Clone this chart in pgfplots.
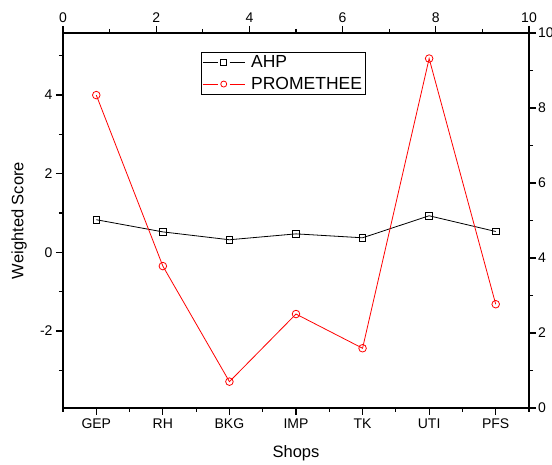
\documentclass[border=0pt]{standalone}
\usepackage{fontspec}
\setmainfont{Liberation Sans}
\usepackage{pgfplots}
\pgfplotsset{compat=1.18}
\begin{document}
\begin{tikzpicture}
\path[use as bounding box] (-63pt,-57pt) rectangle (489pt,408pt);
\begin{axis}[
  at={(0pt,0pt)}, anchor=south west,
  scale only axis, width=466pt, height=375pt,
  xmin=0.5, xmax=7.5, ymin=-3.96, ymax=5.58,
  xtick={1,2,3,4,5,6,7}, xticklabels={GEP,RH,BKG,IMP,TK,UTI,PFS},
  minor xtick={0.5,1.5,2.5,3.5,4.5,5.5,6.5,7.5},
  ytick={-2,0,2,4}, minor ytick={-3,-1,1,3,5},
  xtick pos=left, ytick pos=left,
  tick align=outside, major tick length=7pt, minor tick length=4pt,
  every tick/.style={black, line width=1.2pt},
  every minor tick/.style={black, line width=1.2pt},
  axis line style={line width=1.4pt},
  /pgf/number format/assume math mode=true,
  tick label style={font=\fontsize{14}{16}\selectfont},
  label style={font=\fontsize{16.5}{18}\selectfont},
  xlabel={Shops}, ylabel={Weighted Score},
  xlabel style={at={(axis description cs:0.5,0)}, anchor=center, yshift=-45pt},
  ylabel style={at={(axis description cs:0,0.5)}, anchor=center, xshift=0pt, yshift=44pt},
  legend style={at={(0.296,0.950)}, anchor=north west, draw=black, line width=0.8pt,
    font=\fontsize{17.5}{19}\selectfont, inner xsep=1pt, inner ysep=1.5pt, row sep=4pt,
    cells={anchor=west},
    /tikz/every odd column/.append style={column sep=4pt}},
  legend image code/.code={%
    \draw[mark=none] (0pt,0pt) -- (15pt,0pt);
    \draw[mark=none] (27pt,0pt) -- (42pt,0pt);
    \draw[only marks, mark size=3pt] plot coordinates {(21pt,0pt)};},
]
\addplot[black, line width=0.8pt, mark=square, mark size=3.3pt, mark options={line width=0.8pt, fill=white}]
  coordinates {(1,0.83)(2,0.52)(3,0.32)(4,0.47)(5,0.37)(6,0.93)(7,0.53)};
\addlegendentry{AHP}
\addplot[red, line width=0.8pt, mark=o, mark size=3.8pt, mark options={line width=0.8pt, fill=white}]
  coordinates {(1,4.00)(2,-0.35)(3,-3.29)(4,-1.57)(5,-2.44)(6,4.93)(7,-1.32)};
\addlegendentry{PROMETHEE}
\end{axis}
\begin{axis}[
  at={(0pt,0pt)}, anchor=south west,
  scale only axis, width=466pt, height=375pt,
  xmin=0, xmax=10, ymin=0, ymax=10,
  xtick={0,2,4,6,8,10}, minor xtick={1,3,5,7,9},
  ytick={0,2,4,6,8,10}, minor ytick={1,3,5,7,9},
  xtick pos=right, ytick pos=right,
  xticklabel pos=right, yticklabel pos=right,
  tick align=outside, major tick length=7pt, minor tick length=4pt,
  every tick/.style={black, line width=1.2pt},
  every minor tick/.style={black, line width=1.2pt},
  axis line style={line width=1.4pt},
  /pgf/number format/assume math mode=true,
  tick label style={font=\fontsize{14}{16}\selectfont},
  yticklabel style={xshift=-1.5pt},
]
\end{axis}
\end{tikzpicture}
\end{document}
